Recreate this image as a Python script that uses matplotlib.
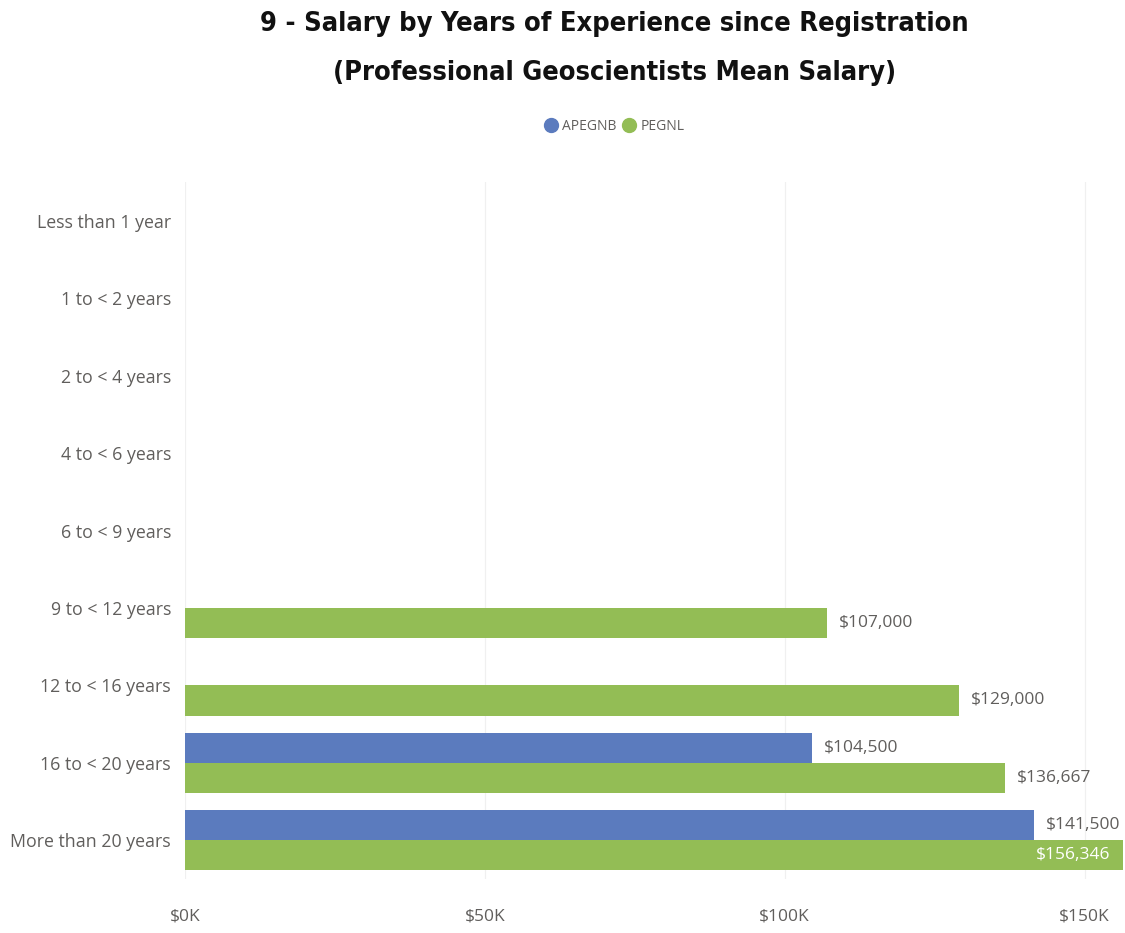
import matplotlib.pyplot as plt
import numpy as np

categories = ["Less than 1 year", "1 to < 2 years", "2 to < 4 years", "4 to < 6 years",
              "6 to < 9 years", "9 to < 12 years", "12 to < 16 years", "16 to < 20 years",
              "More than 20 years"]
apegnb = [None, None, None, None, None, None, None, 104500, 141500]
pegnl = [None, None, None, None, None, 107000, 129000, 136667, 156346]
xticks = [0, 50000, 100000, 150000]
xtick_labels = ["$0K", "$50K", "$100K", "$150K"]

blue = "#5B7BBE"
green = "#93BD55"
grey = "#605E5C"

plt.rcParams['font.family'] = ['Open Sans', 'DejaVu Sans']

fig = plt.figure(figsize=(11.25, 9.33), dpi=100)
ax = fig.add_axes([185 / 1125, 1 - 879 / 933, (1123 - 185) / 1125, (879 - 182) / 933])

y = np.arange(len(categories))
h = 0.39
for i, (a, p) in enumerate(zip(apegnb, pegnl)):
    if a is not None:
        ax.barh(y[i] - h / 2, a, height=h, color=blue)
        ax.text(a + 2000, y[i] - h / 2, f"${a:,}", va="center", ha="left", fontsize=12.5, color=grey)
    if p is not None:
        ax.barh(y[i] + h / 2, p, height=h, color=green)
        if p > 150000:
            ax.text(p - 2000, y[i] + h / 2, f"${p:,}", va="center", ha="right", fontsize=12.5, color="white")
        else:
            ax.text(p + 2000, y[i] + h / 2, f"${p:,}", va="center", ha="left", fontsize=12.5, color=grey)

ax.set_ylim(len(categories) - 0.5, -0.5)
ax.set_xlim(0, 156400)
ax.set_yticks(y)
ax.set_yticklabels(categories, fontsize=12.8, color=grey)
ax.set_xticks(xticks)
ax.set_xticklabels(xtick_labels, fontsize=12.5, color=grey)
ax.tick_params(length=0)
ax.tick_params(axis="y", pad=10)
ax.tick_params(axis="x", pad=21)
for s in ax.spines.values():
    s.set_visible(False)
ax.grid(axis="x", color="#F0F0F0", linewidth=0.9)
ax.set_axisbelow(True)

title_font = dict(ha="center", va="center", fontsize=19.5, fontweight="bold",
                  fontstretch="condensed", family=["DejaVu Sans"], color="#111111")
fig.text(0.546, 1 - 24 / 933, "9 - Salary by Years of Experience since Registration", **title_font)
fig.text(0.546, 1 - 73 / 933, "(Professional Geoscientists Mean Salary)", **title_font)

handles = [plt.Line2D([], [], marker="o", linestyle="", color=blue, markersize=10),
           plt.Line2D([], [], marker="o", linestyle="", color=green, markersize=10)]
fig.legend(handles, ["APEGNB", "PEGNL"], loc="center", bbox_to_anchor=(0.546, 1 - 126 / 933),
           ncol=2, frameon=False, fontsize=10, handletextpad=0.3, columnspacing=0.4,
           labelcolor=grey, handlelength=1.0)

fig.savefig("out.png", dpi=100)
